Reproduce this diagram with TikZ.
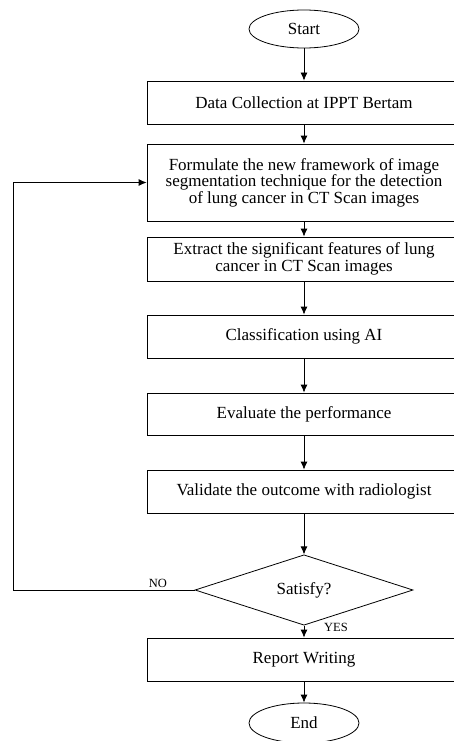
\documentclass[tikz,border=0pt]{standalone}
\usepackage{fontspec}
\setmainfont{Liberation Serif}
\usetikzlibrary{shapes.geometric,arrows.meta}
\begin{document}
\begin{tikzpicture}[x=1pt,y=1pt,line width=0.8pt,
    every node/.style={font=\fontsize{17}{16.5}\selectfont},
    procbox/.style={draw,rectangle,minimum width=314pt,align=center,inner sep=0pt},
    term/.style={draw,ellipse,minimum width=110pt,minimum height=38pt,inner sep=0pt},
    decide/.style={draw,diamond,minimum width=218pt,minimum height=53pt,inner sep=0pt},
    arr/.style={-{Latex[length=8pt,width=7pt]}},
    lbl/.style={font=\fontsize{12.5}{12.5}\selectfont}]
\useasboundingbox (0,0) rectangle (453,-741);
\node[term] (start) at (304,-29) {Start};
\node[procbox,minimum height=43pt] (data) at (304,-102.5) {Data Collection at IPPT Bertam};
\node[procbox,minimum height=77pt] (frame) at (304,-182.5) {Formulate the new framework of image\\segmentation technique for the detection\\of lung cancer in CT Scan images};
\node[procbox,minimum height=44pt] (extract) at (304,-259) {Extract the significant features of lung\\cancer in CT Scan images};
\node[procbox,minimum height=43pt] (classify) at (304,-336.5) {Classification using AI};
\node[procbox,minimum height=42pt] (evaluate) at (304,-414) {Evaluate the performance};
\node[procbox,minimum height=43pt] (validate) at (304,-491.5) {Validate the outcome with radiologist};
\node[decide] (satisfy) at (304,-590) {Satisfy?};
\node[procbox,minimum height=43pt] (report) at (304,-659.5) {Report Writing};
\node[term,minimum height=40pt] (end) at (304,-723) {End};
\coordinate (loop) at (13,-590);
\draw[arr] (start) -- (data);
\draw[arr] (data) -- (frame);
\draw[arr] (frame) -- (extract);
\draw[arr] (extract) -- (classify);
\draw[arr] (classify) -- (evaluate);
\draw[arr] (evaluate) -- (validate);
\draw[arr] (validate) -- (satisfy);
\draw[arr] (satisfy) -- (report);
\draw[arr] (report) -- (end);
\draw[arr] (satisfy.west) -- (loop) |- (frame.west);
\node[lbl] (no) at (158,-583) {NO};
\node[lbl] (yes) at (336,-627) {YES};
\end{tikzpicture}
\end{document}
